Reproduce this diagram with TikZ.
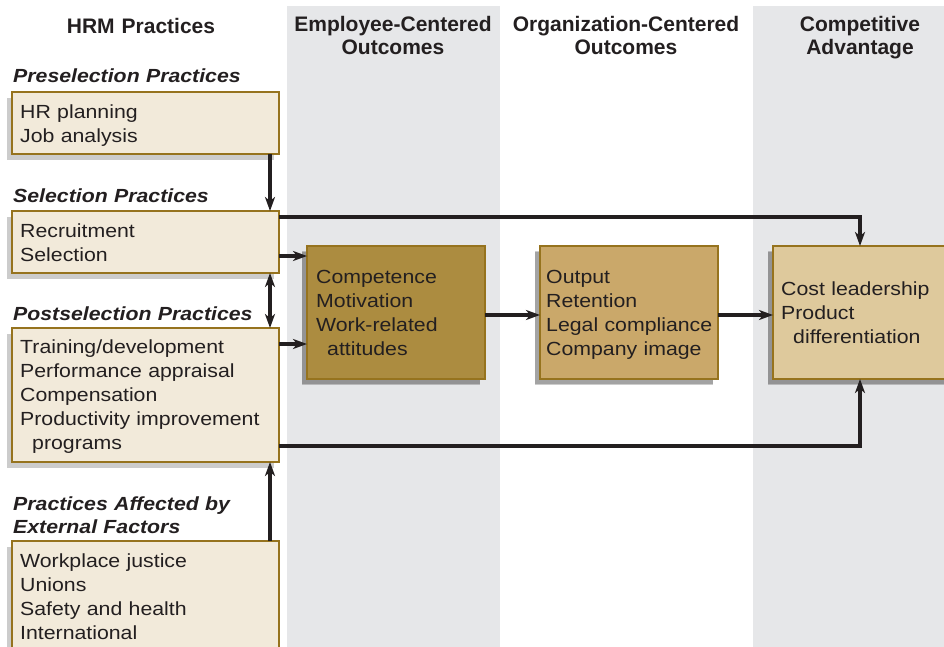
\documentclass[tikz,border=0pt]{standalone}
\usepackage{fontspec}
\setmainfont{Liberation Sans}
\newfontfamily\bodyfont[FakeStretch=1.12]{Liberation Sans}
\usetikzlibrary{arrows.meta,shadows}

\definecolor{ink}{RGB}{35,31,32}
\definecolor{colgray}{RGB}{230,231,233}
\definecolor{cream}{RGB}{242,234,218}
\definecolor{goldline}{RGB}{150,115,30}
\definecolor{empfill}{RGB}{172,140,64}
\definecolor{orgfill}{RGB}{202,168,106}
\definecolor{advfill}{RGB}{222,201,156}

\tikzset{
  panel/.style={rectangle, draw=goldline, line width=1.3pt, inner sep=0pt,
    outer sep=0pt, anchor=north west,
    drop shadow={shadow xshift=-5pt, shadow yshift=-6pt, fill=black, opacity=0.2}},
  body/.style={anchor=base west, inner sep=0pt, text=ink, text width=#1,
    align=left, font=\bodyfont\fontsize{19}{24}\selectfont},
  body/.default=250pt,
  group/.style={anchor=base west, inner sep=0pt, text=ink, text width=280pt,
    align=left, font=\bodyfont\fontsize{19}{23.5}\selectfont\bfseries\itshape},
  colhead/.style={anchor=base, inner sep=0pt, text=ink, text width=250pt,
    align=center, font=\fontsize{21}{23}\selectfont\bfseries},
  tip/.tip={Stealth[length=14pt,width=10pt,inset=4pt]},
  conn/.style={draw=ink, line width=3.4pt, -tip},
  twoway/.style={draw=ink, line width=3.4pt, tip-tip}
}

\begin{document}
\begin{tikzpicture}[x=1pt, y=-1pt]
  \useasboundingbox (0,0) rectangle (944,647);

  % column bands
  \fill[colgray] (287,6) rectangle (500,647);
  \fill[colgray] (753,6) rectangle (944,647);

  % column headings
  \node[colhead] (hhrm) at (141,34) {HRM Practices};
  \node[colhead] (hemp) at (393,32) {Employee-Centered\\Outcomes};
  \node[colhead] (horg) at (626,32) {Organization-Centered\\Outcomes};
  \node[colhead] (hadv) at (860,32) {Competitive\\Advantage};

  % HRM practice groups
  \node[group] (gpre) at (13,83) {Preselection Practices};
  \node[panel, fill=cream, minimum width=267pt, minimum height=62pt] (pre) at (12,92) {};
  \node[body] (tpre) at (20,119) {HR planning\\Job analysis};

  \node[group] (gsel) at (13,202) {Selection Practices};
  \node[panel, fill=cream, minimum width=267pt, minimum height=62pt] (sel) at (12,211) {};
  \node[body] (tsel) at (20,237) {Recruitment\\Selection};

  \node[group] (gpost) at (13,320) {Postselection Practices};
  \node[panel, fill=cream, minimum width=267pt, minimum height=134pt] (post) at (12,328) {};
  \node[body] (tpost) at (20,353) {Training/development\\Performance appraisal\\Compensation\\Productivity improvement\\\hspace*{12pt}programs};

  \node[group] (gext) at (13,510) {Practices Affected by\\External Factors};
  \node[panel, fill=cream, minimum width=267pt, minimum height=130pt] (ext) at (12,541) {};
  \node[body] (text) at (20,567) {Workplace justice\\Unions\\Safety and health\\International};

  % outcome boxes
  \node[panel, fill=empfill, minimum width=178pt, minimum height=133pt,
        drop shadow={shadow xshift=-5pt, shadow yshift=-5pt, fill=black, opacity=0.2}] (emp) at (307,246) {};
  \node[body=165pt] (temp) at (316,283) {Competence\\Motivation\\Work-related\\\hspace*{11pt}attitudes};

  \node[panel, fill=orgfill, minimum width=178pt, minimum height=133pt,
        drop shadow={shadow xshift=-5pt, shadow yshift=-5pt, fill=black, opacity=0.2}] (org) at (540,246) {};
  \node[body=170pt] (torg) at (546,283) {Output\\Retention\\Legal compliance\\Company image};

  \node[panel, fill=advfill, minimum width=190pt, minimum height=133pt,
        drop shadow={shadow xshift=-5pt, shadow yshift=-5pt, fill=black, opacity=0.2}] (adv) at (773,246) {};
  \node[body=170pt] (tadv) at (781,295) {Cost leadership\\Product\\\hspace*{12pt}differentiation};

  % connector rows and columns
  \coordinate (xl) at (270,0);
  \coordinate (xr) at (860,0);
  \coordinate (r217) at (0,217);
  \coordinate (r256) at (0,256);
  \coordinate (r315) at (0,315);
  \coordinate (r344) at (0,344);
  \coordinate (r446) at (0,446);

  % connectors
  \draw[conn] (pre.south -| xl) -- (sel.north -| xl);
  \draw[twoway] (sel.south -| xl) -- (post.north -| xl);
  \draw[conn] (ext.north -| xl) -- (post.south -| xl);
  \draw[conn] (sel.east |- r217) -| (adv.north -| xr);
  \draw[conn] (sel.east |- r256) -- (emp.west |- r256);
  \draw[conn] (post.east |- r344) -- (emp.west |- r344);
  \draw[conn] (post.east |- r446) -| (adv.south -| xr);
  \draw[conn] (emp.east |- r315) -- (org.west |- r315);
  \draw[conn] (org.east |- r315) -- (adv.west |- r315);
\end{tikzpicture}
\end{document}
